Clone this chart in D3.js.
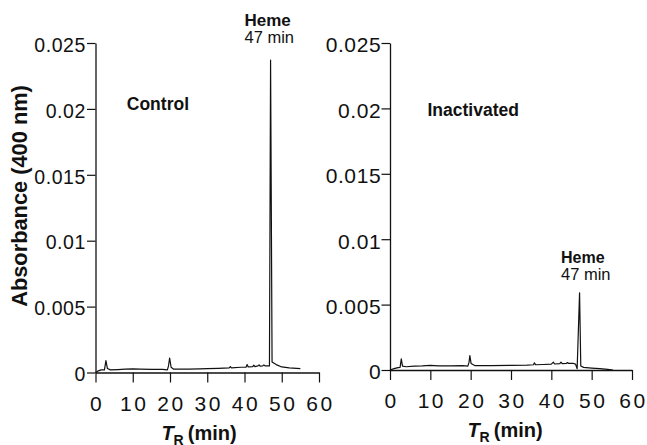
<!DOCTYPE html>
<html>
<head>
<meta charset="utf-8">
<script src="https://cdn.jsdelivr.net/npm/d3@7"></script>
<style>
  html, body { margin: 0; padding: 0; background: #fff; }
  svg { display: block; font-family: "Liberation Sans", Arial, Helvetica, sans-serif; }
</style>
</head>
<body>
<svg id="chart" width="647" height="445"></svg>
<script>
// HPLC traces at 400 nm: retention time (min) and absorbance
const controlTime = [0, 0.6, 1.5, 2.4, 2.8, 3.2, 4, 6, 8, 10, 12, 15, 18, 19.3, 19.6, 19.9, 20.3, 21, 25, 28, 30, 33, 35.9, 36.2, 36.5, 39, 40.4, 40.7, 41.0, 42.2, 42.5, 42.8, 43.6, 43.9, 44.2, 44.9, 45.2, 45.5, 46.7, 47, 47.4, 48.5, 50, 52, 55];
const controlAbs  = [0, 0.0001, 0.0002, 0.0002, 0.0009, 0.0003, 0.0002, 0.00022, 0.00025, 0.00028, 0.00026, 0.00024, 0.00024, 0.0002, 0.0005, 0.0011, 0.0004, 0.00025, 0.00026, 0.00028, 0.0003, 0.00032, 0.00035, 0.00045, 0.00035, 0.0004, 0.0004, 0.0006, 0.00042, 0.00045, 0.00055, 0.00045, 0.0005, 0.00058, 0.00048, 0.0005, 0.00058, 0.0005, 0.0005, 0.0237, 0.0008, 0.0006, 0.00042, 0.00035, 0.0003];

const inactTime = [0, 1, 2, 2.5, 2.8, 3.1, 4, 6, 8, 10, 12, 15, 18, 19.3, 19.6, 19.8, 20.1, 21, 25, 30, 34, 35.6, 35.8, 36.1, 38, 40, 40.5, 40.8, 42.1, 42.4, 42.7, 43.7, 44.0, 44.3, 45.5, 46.0, 46.4, 47, 47.3, 48, 50, 52, 54, 55.3];
const inactAbs  = [0, 0.0001, 0.00018, 0.0002, 0.00085, 0.0003, 0.00025, 0.0003, 0.00032, 0.00036, 0.00032, 0.00032, 0.00033, 0.0003, 0.0006, 0.0011, 0.0005, 0.00034, 0.00033, 0.00036, 0.00038, 0.0004, 0.00055, 0.0004, 0.00042, 0.00045, 0.0006, 0.00046, 0.00048, 0.0006, 0.00048, 0.0005, 0.00057, 0.0005, 0.0005, 0.00045, 0.0001, 0.0059, 0.0003, 0.0002, 0.00015, 0.0001, 0.00005, 0];

const xTicks = [0, 10, 20, 30, 40, 50, 60];
const xTickLabels = ["0", "10", "20", "30", "40", "50", "60"];
const yTicks = [0, 0.005, 0.01, 0.015, 0.02, 0.025];
const yTickLabels = ["0", "0.005", "0.01", "0.015", "0.02", "0.025"];

const panelNames = ["Control", "Inactivated"];
const hemeName = "Heme";
const hemeTime = 47;

const svg = d3.select("#chart");
const ink = "#111";

const panels = [
  { name: panelNames[0], t: controlTime, a: controlAbs,
    x0: 95.5, x1: 319, y0: 372.5, y1: 43,
    nameAt: [8.4, 0.0199], hemeAt: [40.0, 0.0263], titleX: 199, titleY: 440,
    xLabelY: 411, hemeSize: 17, yTickSize: 19.5, yPad: 1, xTickSize: 21 },
  { name: panelNames[1], t: inactTime, a: inactAbs,
    x0: 390, x1: 632, y0: 370, y1: 43,
    nameAt: [9.3, 0.0194], hemeAt: [42.4, 0.0082], titleX: 505, titleY: 437,
    xLabelY: 408, hemeSize: 16, yTickSize: 21, yPad: 0.3, xTickSize: 21 }
];

panels.forEach(p => {
  const x = d3.scaleLinear().domain([0, 60]).range([p.x0, p.x1]);
  const y = d3.scaleLinear().domain([0, 0.025]).range([p.y0, p.y1]);
  const g = svg.append("g");

  // y axis
  const yAxis = d3.axisLeft(y)
    .tickValues(yTicks)
    .tickFormat((d, i) => yTickLabels[i])
    .tickSize(8.5).tickSizeOuter(0).tickPadding(p.yPad);
  const ya = g.append("g").attr("transform", `translate(${p.x0},0)`).call(yAxis);
  ya.select(".domain").attr("stroke", ink).attr("stroke-width", 1.3);
  ya.selectAll(".tick line").attr("stroke", ink).attr("stroke-width", 1.2);
  ya.selectAll(".tick text")
    .attr("fill", ink)
    .style("font-size", p.yTickSize + "px")
    .style("font-family", "'Liberation Sans', Arial, sans-serif")
    .style("letter-spacing", "0.6px")
    .attr("dy", "0.42em");

  // x axis
  const xAxis = d3.axisBottom(x)
    .tickValues(xTicks)
    .tickFormat((d, i) => xTickLabels[i])
    .tickSize(10).tickSizeOuter(0);
  const xa = g.append("g").attr("transform", `translate(0,${p.y0})`).call(xAxis);
  xa.select(".domain").attr("stroke", ink).attr("stroke-width", 1.3);
  xa.selectAll(".tick line").attr("stroke", ink).attr("stroke-width", 1.2);
  xa.selectAll(".tick text")
    .attr("fill", ink)
    .attr("y", p.xLabelY - p.y0)
    .attr("dy", 0)
    .attr("dx", "1px")
    .style("font-size", p.xTickSize + "px")
    .style("font-family", "'Liberation Sans', Arial, sans-serif")
    .style("letter-spacing", "2.5px");

  // chromatogram trace
  const line = d3.line()
    .x((d, i) => x(p.t[i]))
    .y((d, i) => y(p.a[i]));
  g.append("path")
    .datum(p.a)
    .attr("d", line)
    .attr("fill", "none")
    .attr("stroke", ink)
    .attr("stroke-width", 1.2)
    .attr("stroke-linejoin", "round");

  // sample name
  g.append("text")
    .attr("x", x(p.nameAt[0])).attr("y", y(p.nameAt[1]))
    .attr("font-weight", "bold").attr("font-size", 17.5).attr("fill", ink)
    .text(p.name);

  // heme peak annotation
  const hx = x(p.hemeAt[0]), hy = y(p.hemeAt[1]);
  g.append("text")
    .attr("x", hx).attr("y", hy)
    .attr("font-weight", "bold").attr("font-size", p.hemeSize).attr("fill", ink)
    .text(hemeName);
  g.append("text")
    .attr("x", hx).attr("y", hy + 17.5)
    .attr("font-size", 16.5).attr("fill", ink)
    .text(`${hemeTime} min`);

  // x axis title: T_R (min)
  const tt = g.append("text")
    .attr("x", p.titleX).attr("y", p.titleY)
    .attr("text-anchor", "middle")
    .attr("font-weight", "bold").attr("font-size", 20).attr("fill", ink);
  tt.append("tspan").attr("font-style", "italic").text("T");
  tt.append("tspan").attr("font-size", 14).attr("dy", 5).text("R");
  tt.append("tspan").attr("dy", -5).attr("dx", 4).text("(min)");
});

// shared y axis title
svg.append("text")
  .attr("transform", "translate(27,196) rotate(-90)")
  .attr("text-anchor", "middle")
  .attr("font-weight", "bold")
  .attr("font-size", 21.8)
  .attr("fill", ink)
  .text("Absorbance (400 nm)");
</script>
</body>
</html>
